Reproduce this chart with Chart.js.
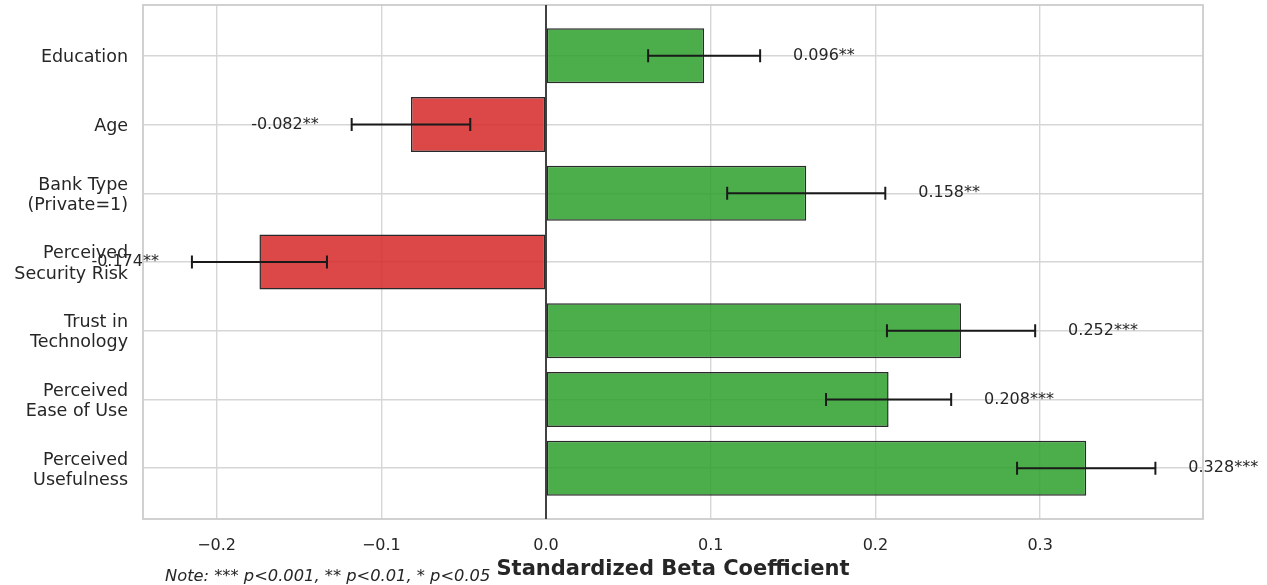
<!DOCTYPE html>
<html>
<head>
<meta charset="utf-8">
<script src="https://cdn.jsdelivr.net/npm/chart.js@4"></script>
<style>
html,body{margin:0;padding:0;background:#fff;}
#wrap{width:1267px;height:585px;position:relative;}
</style>
</head>
<body>
<div id="wrap"><canvas id="c" width="1267" height="585"></canvas></div>
<script>
const categories = [
  ["Education"],
  ["Age"],
  ["Bank Type", "(Private=1)"],
  ["Perceived", "Security Risk"],
  ["Trust in", "Technology"],
  ["Perceived", "Ease of Use"],
  ["Perceived", "Usefulness"]
];
const coefficients = [0.096, -0.082, 0.158, -0.174, 0.252, 0.208, 0.328];
const stdErrors = [0.034, 0.036, 0.048, 0.041, 0.045, 0.038, 0.042];
const significance = ["**", "**", "**", "**", "***", "***", "***"];
const xTicks = [-0.2, -0.1, 0.0, 0.1, 0.2, 0.3];
const noteText = "Note: *** p<0.001, ** p<0.01, * p<0.05";
const xTitle = "Standardized Beta Coefficient";

const GREEN = "rgba(44,160,44,0.85)";
const RED = "rgba(214,39,40,0.85)";
const TEXT = "#262626";
const FONT = "'DejaVu Sans', sans-serif";

const barData = coefficients.map((v, i) => ({ x: v, y: i }));

const overlay = {
  id: "overlay",
  beforeDatasetsDraw(chart) {
    const { ctx, chartArea: a } = chart;
    ctx.save();
    ctx.strokeStyle = "#cccccc";
    ctx.lineWidth = 1.8;
    ctx.strokeRect(a.left, a.top, a.right - a.left, a.bottom - a.top);
    ctx.restore();
  },
  afterDatasetsDraw(chart) {
    const { ctx, chartArea: a, scales } = chart;
    const xs = scales.x, ys = scales.y;
    ctx.save();
    const x0 = xs.getPixelForValue(0);
    ctx.strokeStyle = "#1a1a1a";
    ctx.lineWidth = 1.6;
    ctx.beginPath();
    ctx.moveTo(x0, a.top);
    ctx.lineTo(x0, a.bottom);
    ctx.stroke();
    coefficients.forEach((v, i) => {
      const y = ys.getPixelForValue(i);
      const lo = xs.getPixelForValue(v - stdErrors[i]);
      const hi = xs.getPixelForValue(v + stdErrors[i]);
      ctx.strokeStyle = "#1a1a1a";
      ctx.lineWidth = 2;
      ctx.beginPath();
      ctx.moveTo(lo, y); ctx.lineTo(hi, y);
      ctx.moveTo(lo, y - 6.5); ctx.lineTo(lo, y + 6.5);
      ctx.moveTo(hi, y - 6.5); ctx.lineTo(hi, y + 6.5);
      ctx.stroke();
      const label = v.toFixed(3) + significance[i];
      ctx.fillStyle = TEXT;
      ctx.font = "16px " + FONT;
      ctx.textBaseline = "middle";
      if (v >= 0) {
        ctx.textAlign = "left";
        ctx.fillText(label, xs.getPixelForValue(v + stdErrors[i] + 0.02), y);
      } else {
        ctx.textAlign = "right";
        ctx.fillText(label, xs.getPixelForValue(v - stdErrors[i] - 0.02), y);
      }
    });
    ctx.font = "italic 16.3px " + FONT;
    ctx.textAlign = "left";
    ctx.textBaseline = "middle";
    ctx.fillStyle = TEXT;
    ctx.fillText(noteText, 165, 577);
    ctx.restore();
  }
};

new Chart(document.getElementById("c"), {
  type: "bar",
  data: {
    datasets: [{
      data: barData,
      backgroundColor: coefficients.map(v => v >= 0 ? GREEN : RED),
      borderColor: "#2a2a2a",
      borderWidth: 1.5,
      borderSkipped: false,
      categoryPercentage: 1.0,
      barPercentage: 0.8
    }]
  },
  options: {
    indexAxis: "y",
    responsive: false,
    animation: false,
    devicePixelRatio: 1,
    layout: { padding: { left: 0, right: 64, top: 5, bottom: 0 } },
    plugins: { legend: { display: false }, tooltip: { enabled: false } },
    scales: {
      x: {
        type: "linear",
        min: -0.2447,
        max: 0.3989,
        afterBuildTicks(s) { s.ticks = xTicks.map(v => ({ value: v })); },
        afterFit(s) { s.height = 66; s.paddingLeft = 0; s.paddingRight = 0; },
        grid: { color: "#d6d6d6", lineWidth: 1.4, drawTicks: false },
        border: { display: false },
        ticks: {
          padding: 17,
          color: TEXT,
          font: { family: FONT, size: 16 },
          callback: v => (v < 0 ? "\u2212" : "") + Math.abs(v).toFixed(1)
        },
        title: {
          display: true,
          text: xTitle,
          color: TEXT,
          font: { family: FONT, size: 21, weight: "bold" },
          padding: { top: 0, bottom: 3 }
        }
      },
      y: {
        type: "linear",
        reverse: true,
        offset: false,
        min: -0.74,
        max: 6.74,
        afterBuildTicks(s) { s.ticks = categories.map((_, i) => ({ value: i })); },
        afterFit(s) { s.width = 143; s.paddingTop = 0; s.paddingBottom = 0; },
        grid: { color: "#d6d6d6", lineWidth: 1.4, drawTicks: false, offset: false },
        border: { display: false },
        ticks: {
          padding: 15,
          labelOffset: 2,
          color: TEXT,
          font: { family: FONT, size: 17.5, lineHeight: 1.15 },
          callback: v => categories[v]
        }
      }
    }
  },
  plugins: [overlay]
});
</script>
</body>
</html>
